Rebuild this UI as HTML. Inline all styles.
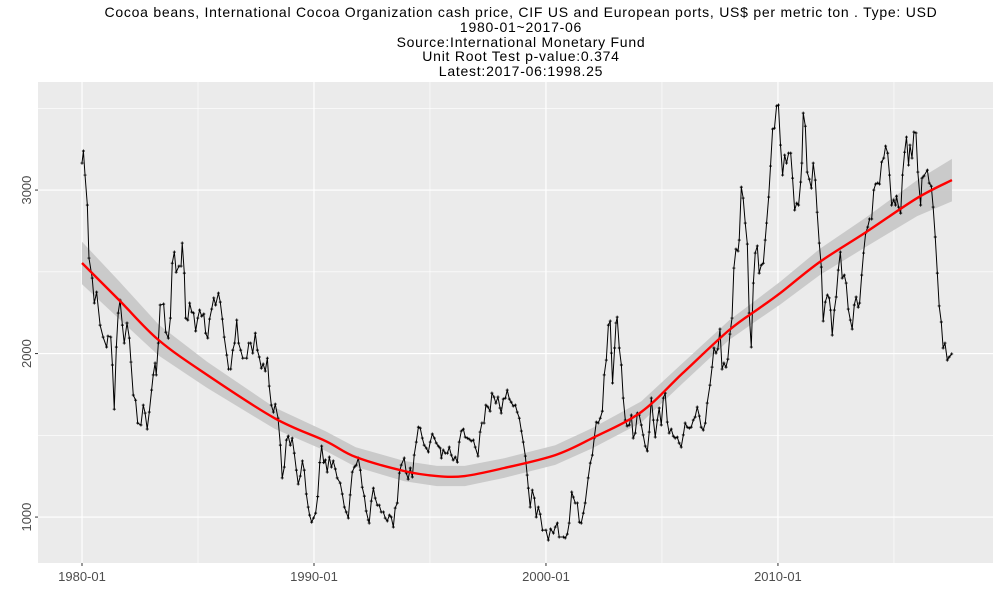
<!DOCTYPE html>
<html><head><meta charset="utf-8"><style>
body{margin:0;background:#fff;width:1000px;height:600px;overflow:hidden;font-family:"Liberation Sans",sans-serif}
</style></head><body>
<svg id="chart" width="1000" height="600" xmlns="http://www.w3.org/2000/svg">
<g font-size="14" letter-spacing="0.75" fill="#000" text-anchor="middle" font-family="Liberation Sans, sans-serif">
<text x="521" y="17">Cocoa beans, International Cocoa Organization cash price, CIF US and European ports, US$ per metric ton . Type: USD</text>
<text x="521" y="32">1980-01~2017-06</text>
<text x="521" y="47">Source:International Monetary Fund</text>
<text x="521" y="61">Unit Root Test p-value:0.374</text>
<text x="521" y="76">Latest:2017-06:1998.25</text>
</g>
<rect x="38" y="82" width="955" height="481" fill="#EBEBEB"/>
<g id="grid"></g><g id="band"></g><g id="series"></g><g id="smooth"></g><g id="axes"></g>
</svg>
<script>
const dates=[1980.0,1980.06,1980.13,1980.23,1980.30,1980.44,1980.53,1980.63,1980.78,1980.91,1981.06,1981.12,1981.24,1981.31,1981.39,1981.48,1981.56,1981.64,1981.74,1981.82,1981.94,1982.04,1982.11,1982.21,1982.31,1982.40,1982.54,1982.64,1982.72,1982.81,1982.90,1983.00,1983.07,1983.15,1983.20,1983.29,1983.37,1983.52,1983.61,1983.72,1983.81,1983.89,1983.98,1984.06,1984.18,1984.27,1984.32,1984.41,1984.47,1984.56,1984.64,1984.73,1984.81,1984.90,1984.99,1985.07,1985.16,1985.25,1985.33,1985.42,1985.50,1985.59,1985.68,1985.76,1985.88,1985.96,1986.05,1986.13,1986.24,1986.32,1986.41,1986.50,1986.58,1986.67,1986.75,1986.84,1986.93,1987.10,1987.19,1987.27,1987.36,1987.47,1987.56,1987.64,1987.73,1987.81,1987.90,1987.99,1988.07,1988.16,1988.25,1988.33,1988.45,1988.55,1988.63,1988.72,1988.81,1988.89,1988.98,1989.06,1989.15,1989.24,1989.32,1989.41,1989.50,1989.58,1989.67,1989.75,1989.81,1989.90,1989.98,1990.07,1990.16,1990.25,1990.33,1990.42,1990.49,1990.57,1990.66,1990.75,1990.83,1990.92,1991.00,1991.13,1991.22,1991.31,1991.39,1991.48,1991.56,1991.65,1991.74,1991.82,1991.91,1992.00,1992.08,1992.17,1992.25,1992.34,1992.38,1992.47,1992.56,1992.64,1992.73,1992.81,1992.90,1992.99,1993.07,1993.16,1993.25,1993.33,1993.42,1993.50,1993.59,1993.68,1993.76,1993.89,1993.98,1994.06,1994.15,1994.24,1994.32,1994.41,1994.50,1994.58,1994.67,1994.75,1994.84,1994.93,1995.01,1995.10,1995.19,1995.27,1995.36,1995.44,1995.49,1995.57,1995.66,1995.75,1995.83,1995.92,1996.00,1996.09,1996.18,1996.26,1996.35,1996.44,1996.52,1996.61,1996.69,1996.78,1996.87,1996.95,1997.07,1997.16,1997.24,1997.33,1997.41,1997.50,1997.59,1997.67,1997.76,1997.84,1997.93,1998.02,1998.07,1998.16,1998.25,1998.33,1998.42,1998.50,1998.59,1998.68,1998.76,1998.85,1998.94,1999.02,1999.11,1999.19,1999.24,1999.32,1999.41,1999.50,1999.58,1999.67,1999.75,1999.85,2000.00,2000.10,2000.20,2000.32,2000.40,2000.49,2000.57,2000.75,2000.83,2000.92,2001.00,2001.11,2001.18,2001.26,2001.35,2001.44,2001.52,2001.61,2001.69,2001.82,2001.91,2002.00,2002.08,2002.17,2002.25,2002.34,2002.43,2002.51,2002.60,2002.69,2002.77,2002.82,2002.87,2002.96,2003.02,2003.07,2003.16,2003.25,2003.33,2003.42,2003.50,2003.59,2003.68,2003.76,2003.85,2003.94,2004.02,2004.11,2004.19,2004.28,2004.37,2004.45,2004.54,2004.63,2004.71,2004.80,2004.88,2004.97,2005.06,2005.14,2005.23,2005.31,2005.40,2005.49,2005.57,2005.66,2005.74,2005.83,2005.92,2006.00,2006.09,2006.18,2006.26,2006.35,2006.43,2006.52,2006.61,2006.69,2006.78,2006.87,2006.95,2007.07,2007.16,2007.24,2007.33,2007.41,2007.50,2007.59,2007.67,2007.76,2007.84,2007.93,2008.02,2008.10,2008.19,2008.28,2008.33,2008.42,2008.50,2008.59,2008.68,2008.76,2008.85,2008.94,2009.02,2009.11,2009.19,2009.28,2009.37,2009.45,2009.51,2009.60,2009.68,2009.77,2009.85,2009.94,2010.02,2010.11,2010.20,2010.29,2010.37,2010.46,2010.55,2010.63,2010.72,2010.81,2010.89,2010.98,2011.03,2011.09,2011.18,2011.26,2011.35,2011.44,2011.52,2011.61,2011.69,2011.78,2011.87,2011.95,2012.04,2012.13,2012.21,2012.27,2012.34,2012.43,2012.51,2012.60,2012.69,2012.77,2012.86,2012.94,2013.03,2013.12,2013.20,2013.29,2013.37,2013.46,2013.52,2013.61,2013.69,2013.78,2013.87,2013.95,2014.04,2014.13,2014.21,2014.30,2014.38,2014.47,2014.56,2014.64,2014.73,2014.81,2014.90,2014.99,2015.07,2015.11,2015.20,2015.29,2015.37,2015.46,2015.54,2015.63,2015.69,2015.78,2015.86,2015.95,2016.03,2016.15,2016.21,2016.29,2016.44,2016.52,2016.61,2016.69,2016.78,2016.87,2016.95,2017.04,2017.12,2017.20,2017.30,2017.38,2017.49];
const prices=[3165,3239,3092,2908,2584,2462,2309,2376,2174,2101,2040,2107,2101,1930,1660,2040,2248,2327,2174,2064,2187,2095,1948,1746,1715,1575,1563,1685,1636,1538,1642,1777,1869,1942,1869,2064,2297,2303,2131,2095,2217,2553,2621,2498,2535,2535,2676,2492,2217,2205,2309,2254,2248,2138,2217,2266,2229,2242,2125,2095,2211,2272,2340,2297,2370,2315,2211,2101,1991,1905,1905,2021,2064,2205,2064,2021,1972,1972,2064,2064,2003,2125,2021,1979,1911,1936,1893,1972,1801,1685,1642,1691,1605,1440,1239,1306,1471,1495,1440,1483,1391,1287,1202,1251,1343,1287,1141,1061,1012,969,994,1024,1125,1333,1434,1333,1349,1275,1367,1306,1343,1294,1239,1208,1141,1061,1031,994,1135,1275,1306,1318,1361,1287,1183,1128,1037,982,963,1098,1177,1116,1073,1073,1031,1031,994,976,1012,1000,939,1055,1086,1269,1318,1361,1269,1232,1300,1245,1379,1459,1550,1544,1483,1440,1422,1398,1459,1508,1483,1453,1434,1422,1361,1410,1391,1391,1428,1379,1349,1367,1336,1459,1526,1538,1489,1483,1477,1465,1471,1428,1373,1520,1575,1575,1685,1673,1648,1758,1734,1697,1734,1667,1636,1722,1728,1777,1722,1703,1679,1685,1642,1605,1526,1459,1373,1257,1177,1061,1165,1116,1000,1061,1018,920,920,859,927,902,939,963,878,878,872,896,963,1153,1122,1086,1086,969,963,1024,1086,1239,1330,1379,1483,1581,1575,1605,1648,1869,1960,2174,2199,2003,1820,2034,2187,2223,2034,1930,1728,1593,1557,1563,1624,1483,1514,1636,1624,1563,1502,1434,1404,1520,1728,1593,1489,1593,1667,1563,1728,1758,1581,1514,1538,1495,1483,1489,1453,1428,1502,1575,1550,1544,1550,1593,1612,1673,1618,1550,1532,1575,1697,1807,1917,2034,2003,2028,2150,1905,1942,1917,1966,2119,2217,2523,2639,2627,2694,3018,2951,2798,2670,2248,2040,2431,2615,2658,2492,2541,2553,2694,2798,2957,3147,3373,3379,3514,3520,3275,3092,3214,3165,3226,3226,3073,2878,2920,2908,3049,3165,3471,3391,3110,3067,3012,3165,3061,2865,2676,2529,2199,2315,2358,2340,2266,2113,2266,2346,2511,2621,2462,2480,2431,2272,2205,2150,2297,2346,2284,2309,2480,2615,2737,2774,2823,2823,3000,3037,3043,3037,3171,3196,3269,3226,3092,2908,2939,2908,2963,2896,2859,3092,3232,3324,3153,3275,3196,3355,3349,3110,2908,3073,3086,3122,3043,3024,2896,2713,2492,2291,2193,2034,2064,1960,1979,1998];
const smoothYears=[1980,1981.6,1983.3,1985.4,1988.3,1990.5,1991.8,1993.9,1995.3,1996.5,1998.2,2000.4,2002.0,2004.1,2005.9,2007.9,2009.2,2010.1,2011.8,2013.8,2016.0,2017.5];
const smoothValues=[2554,2327,2083,1869,1605,1465,1367,1281,1251,1251,1300,1379,1483,1642,1881,2144,2278,2370,2560,2743,2951,3061];
const smoothSE=[130,115,95,80,65,60,60,62,62,62,60,60,62,65,62,60,65,70,80,90,110,130];
const xTickYears=[1980,1990,2000,2010];
const xTickLabels=["1980-01","1990-01","2000-01","2010-01"];
const yTickValues=[1000,2000,3000];
const yTickLabels=["1000","2000","3000"];

const NS="http://www.w3.org/2000/svg";
const L=38,R=993,T=82,B=563;
const xMin=1978.103,xMax=2019.27,yMin=719,yMax=3661;
const sx=v=>L+(v-xMin)/(xMax-xMin)*(R-L);
const sy=v=>B-(v-yMin)/(yMax-yMin)*(B-T);
function mk(tag,attrs,parent){const e=document.createElementNS(NS,tag);for(const k in attrs)e.setAttribute(k,attrs[k]);parent.appendChild(e);return e;}

const grid=document.getElementById('grid');
[1985,1995,2005,2015].forEach(y=>{const l=mk('line',{x1:sx(y),x2:sx(y),y1:T,y2:B,stroke:'#fff','stroke-width':0.6},grid);

});
[1500,2500,3500].forEach(v=>{const l=mk('line',{x1:L,x2:R,y1:sy(v),y2:sy(v),stroke:'#fff','stroke-width':0.6},grid);

});
xTickYears.forEach(y=>{const l=mk('line',{x1:sx(y),x2:sx(y),y1:T,y2:B,stroke:'#fff','stroke-width':1.2},grid);

});
yTickValues.forEach(v=>{const l=mk('line',{x1:L,x2:R,y1:sy(v),y2:sy(v),stroke:'#fff','stroke-width':1.2},grid);

});

const band=document.getElementById('band');
let up=[],dn=[];
smoothYears.forEach((y,i)=>{up.push(sx(y)+','+sy(smoothValues[i]+smoothSE[i]));dn.unshift(sx(y)+','+sy(smoothValues[i]-smoothSE[i]));});
const bp=mk('polygon',{points:up.concat(dn).join(' '),fill:'#C8C8C8','fill-opacity':0.95},band);



const ser=document.getElementById('series');
const pl=mk('polyline',{points:dates.map((d,i)=>sx(d)+','+sy(prices[i])).join(' '),fill:'none',stroke:'#000','stroke-width':1},ser);


let pd='';
dates.forEach((d,i)=>{const x=sx(d),y=sy(prices[i]);pd+=`M${x-1.5},${y}h3M${x},${y-1.5}v3`;});
const mp=mk('path',{d:pd,stroke:'#000','stroke-width':0.9,fill:'none'},ser);



const sm=document.getElementById('smooth');
const P=smoothYears.map((y,i)=>[sx(y),sy(smoothValues[i])]);
let d=`M${P[0][0]},${P[0][1]}`;
for(let i=0;i<P.length-1;i++){const p0=P[Math.max(0,i-1)],p1=P[i],p2=P[i+1],p3=P[Math.min(P.length-1,i+2)];
d+=`C${p1[0]+(p2[0]-p0[0])/6},${p1[1]+(p2[1]-p0[1])/6} ${p2[0]-(p3[0]-p1[0])/6},${p2[1]-(p3[1]-p1[1])/6} ${p2[0]},${p2[1]}`;}
const sl=mk('path',{d:d,stroke:'#FF0000','stroke-width':2.4,fill:'none'},sm);



const ax=document.getElementById('axes');
xTickYears.forEach((y,i)=>{
const t=mk('line',{x1:sx(y),x2:sx(y),y1:B,y2:B+3,stroke:'#333','stroke-width':1},ax);


const tx=mk('text',{x:sx(y),y:B+18,'text-anchor':'middle','font-size':13,fill:'#4D4D4D','font-family':'Liberation Sans, sans-serif'},ax);
tx.textContent=xTickLabels[i];

});
yTickValues.forEach((v,i)=>{
const t=mk('line',{x1:L-3,x2:L,y1:sy(v),y2:sy(v),stroke:'#333','stroke-width':1},ax);


const tx=mk('text',{x:31,y:sy(v),'text-anchor':'middle','font-size':13,fill:'#4D4D4D','font-family':'Liberation Sans, sans-serif',transform:`rotate(-90 31 ${sy(v)})`},ax);
tx.textContent=yTickLabels[i];

});
</script>
</body></html>
